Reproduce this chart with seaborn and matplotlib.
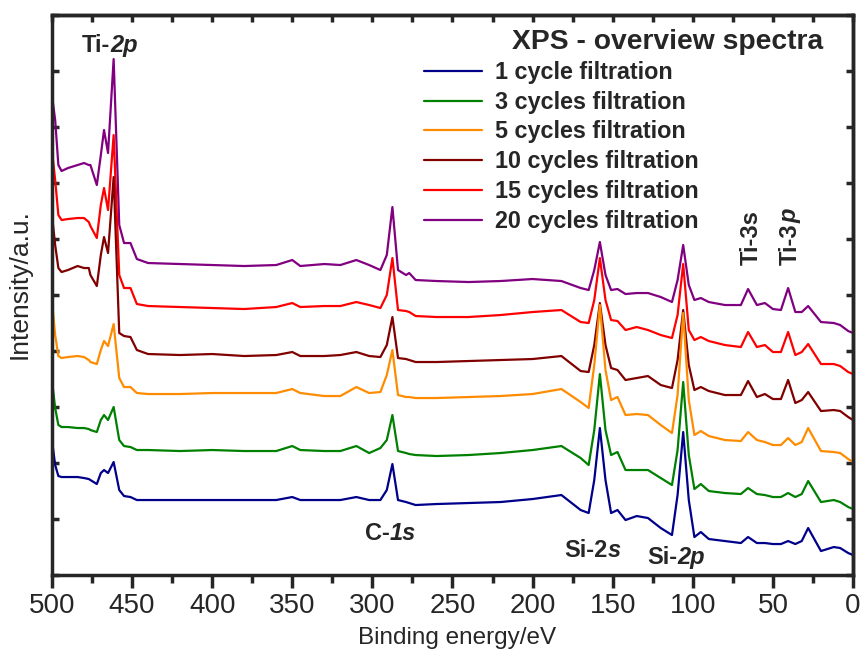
import numpy as np
import pandas as pd
import seaborn as sns
import matplotlib.pyplot as plt
from matplotlib.lines import Line2D
from matplotlib.ticker import MultipleLocator

# XPS survey spectra, stacked (arbitrary units)
energy = [500, 498, 496, 494, 490, 484, 480, 477, 476, 472,
          469.5, 467.5, 465, 461.5, 458, 455, 451, 447, 440, 420,
          400, 380, 360, 350, 345, 330, 320, 310, 302, 295,
          291, 287.5, 284, 279, 277, 273, 260, 240, 220, 200,
          182, 170, 165, 161.5, 158, 154.5, 151, 147, 142, 135,
          128, 120, 113, 109.5, 106, 102.5, 99, 95, 90, 80,
          70, 65.5, 60, 55, 50, 45, 40.5, 36, 32, 28,
          20, 12, 8, 3, 0]

cyc1 = [135, 110, 99, 98, 98, 98, 97, 96, 95, 91,
        102, 105, 102, 113, 85, 79, 78, 75, 75, 75,
        75, 75, 75, 78, 75, 75, 75, 78, 75, 75,
        85, 111, 75, 73, 72, 70, 71, 72, 73, 76,
        80, 65, 62, 95, 147, 95, 62, 65, 55, 59,
        57, 47, 40, 80, 143, 75, 38, 43, 36, 34,
        32, 38, 32, 32, 31, 31, 34, 31, 34, 47,
        24, 28, 27, 22, 20]
cyc3 = [195, 167, 150, 148, 148, 147, 147, 146, 145, 143,
        155, 160, 155, 168, 135, 129, 128, 125, 125, 124,
        125, 124, 124, 129, 125, 124, 124, 129, 122, 127,
        135, 160, 124, 122, 121, 120, 119, 120, 122, 125,
        129, 117, 110, 145, 201, 145, 120, 123, 105, 105,
        105, 97, 90, 125, 193, 120, 86, 91, 84, 82,
        81, 87, 81, 80, 78, 78, 82, 78, 81, 94,
        73, 75, 73, 68, 66]
cyc5 = [275, 240, 219, 217, 218, 219, 218, 215, 213, 211,
        225, 234, 229, 251, 197, 188, 188, 182, 181, 181,
        182, 182, 182, 186, 182, 179, 179, 188, 182, 183,
        200, 225, 180, 178, 178, 177, 177, 178, 179, 181,
        186, 173, 167, 210, 270, 205, 175, 178, 160, 161,
        160, 150, 142, 180, 262, 175, 140, 144, 139, 135,
        134, 143, 135, 133, 130, 130, 137, 130, 133, 147,
        124, 123, 122, 116, 113]
cyc10 = [360, 330, 307, 303, 305, 309, 307, 307, 300, 289,
         320, 338, 322, 398, 242, 239, 238, 225, 221, 220,
         221, 219, 220, 223, 219, 219, 220, 223, 219, 218,
         230, 258, 217, 216, 215, 213, 213, 214, 215, 216,
         219, 204, 203, 230, 272, 230, 207, 205, 195, 197,
         199, 190, 187, 215, 265, 210, 185, 188, 184, 180,
         180, 194, 178, 181, 176, 176, 195, 172, 175, 183,
         164, 165, 164, 158, 155]
cyc15 = [425, 395, 360, 355, 356, 357, 357, 353, 349, 337,
         370, 387, 365, 440, 300, 287, 287, 271, 269, 268,
         267, 266, 268, 272, 268, 269, 269, 273, 270, 267,
         280, 317, 265, 264, 263, 259, 258, 258, 260, 263,
         265, 253, 252, 275, 317, 275, 255, 254, 245, 248,
         245, 240, 237, 260, 311, 245, 235, 238, 234, 230,
         228, 243, 228, 230, 223, 223, 243, 220, 223, 231,
         211, 211, 209, 203, 201]
cyc20 = [480, 455, 410, 404, 407, 410, 412, 410, 410, 390,
         420, 445, 422, 516, 350, 332, 332, 316, 312, 311,
         310, 309, 310, 315, 309, 311, 310, 315, 310, 305,
         320, 368, 305, 300, 302, 295, 294, 293, 294, 296,
         294, 287, 285, 305, 333, 300, 285, 286, 281, 282,
         282, 278, 273, 295, 330, 290, 275, 277, 273, 270,
         270, 286, 270, 272, 266, 265, 287, 263, 263, 269,
         253, 252, 250, 244, 242]

labels = ['1 cycle filtration', '3 cycles filtration', '5 cycles filtration',
          '10 cycles filtration', '15 cycles filtration', '20 cycles filtration']
series = [cyc1, cyc3, cyc5, cyc10, cyc15, cyc20]
colors = ['#00008B', '#008000', '#FF8C00', '#800000', '#FF0000', '#800080']

sns.set_style('ticks')
plt.rcParams['font.family'] = ['Liberation Sans', 'DejaVu Sans']

fig, ax = plt.subplots(figsize=(8.66, 6.53), dpi=100)
fig.subplots_adjust(left=0.060, right=0.985, bottom=0.1194, top=0.977)

# draw top spectrum first so the lower ones sit on top
for name, vals, col in reversed(list(zip(labels, series, colors))):
    df = pd.DataFrame({'BE': energy, 'I': vals})
    sns.lineplot(data=df, x='BE', y='I', color=col, lw=1.6, sort=False,
                 estimator=None, ax=ax)

ax.set_xlim(500, 0)
ax.set_ylim(0, 560)
ax.xaxis.set_major_locator(MultipleLocator(50))
ax.xaxis.set_minor_locator(MultipleLocator(25))
ax.yaxis.set_major_locator(MultipleLocator(56))
ax.tick_params(axis='x', which='major', direction='out', length=9, width=2.5,
               labelsize=20, pad=4)
ax.tick_params(axis='x', which='minor', direction='out', length=6, width=2.5)
ax.tick_params(axis='y', direction='in', length=5, width=2.5, labelleft=False)
for s in ax.spines.values():
    s.set_visible(True)
    s.set_linewidth(2.5)

secx = ax.secondary_xaxis('top')
secx.xaxis.set_major_locator(MultipleLocator(25))
secx.tick_params(direction='in', length=5, width=2.5, labeltop=False)
secx.spines['top'].set_linewidth(2.5)
secy = ax.secondary_yaxis('right')
secy.yaxis.set_major_locator(MultipleLocator(56))
secy.tick_params(direction='in', length=5, width=2.5, labelright=False)
secy.spines['right'].set_linewidth(2.5)

ax.set_xlabel('Binding energy/eV', fontsize=17.5)
ax.xaxis.set_label_coords(0.506, -0.092)
ax.set_ylabel('Intensity/a.u.', fontsize=19)
ax.yaxis.set_label_coords(-0.025, 0.52)

handles = [Line2D([], [], color=c, lw=1.6) for c in colors]
ax.legend(handles, labels, loc='upper left', bbox_to_anchor=(0.464, 0.918),
          frameon=False, borderpad=0, borderaxespad=0, handlelength=2.5,
          handletextpad=0.56, labelspacing=0.29,
          prop={'weight': 'bold', 'size': 16.8})
ax.text(0.574, 0.940, 'XPS - overview spectra', transform=ax.transAxes,
        fontsize=20.3, fontweight='bold', ha='left', va='baseline')


def peak_label(x, y, plain, ital='', rot=0):
    t = ax.text(x, y, plain, fontsize=17, fontweight='bold', ha='left',
                va='baseline', rotation=rot, rotation_mode='anchor')
    if ital:
        xy = (1, 0) if rot == 0 else (0, 1)
        ax.annotate(ital, xy=xy, xycoords=t, ha='left', va='bottom',
                    rotation=rot, fontsize=17, fontweight='bold',
                    style='italic')


peak_label(481.3, 523, 'Ti-', '2p')
peak_label(304.6, 35, 'C-', '1s')
peak_label(180.4, 18, 'Si-2', 's')
peak_label(128.6, 11, 'Si-', '2p')
peak_label(59.3, 310, 'Ti-3s', rot=90)
peak_label(35.0, 310, 'Ti-3', 'p', rot=90)

fig.savefig('out.png', dpi=100)
